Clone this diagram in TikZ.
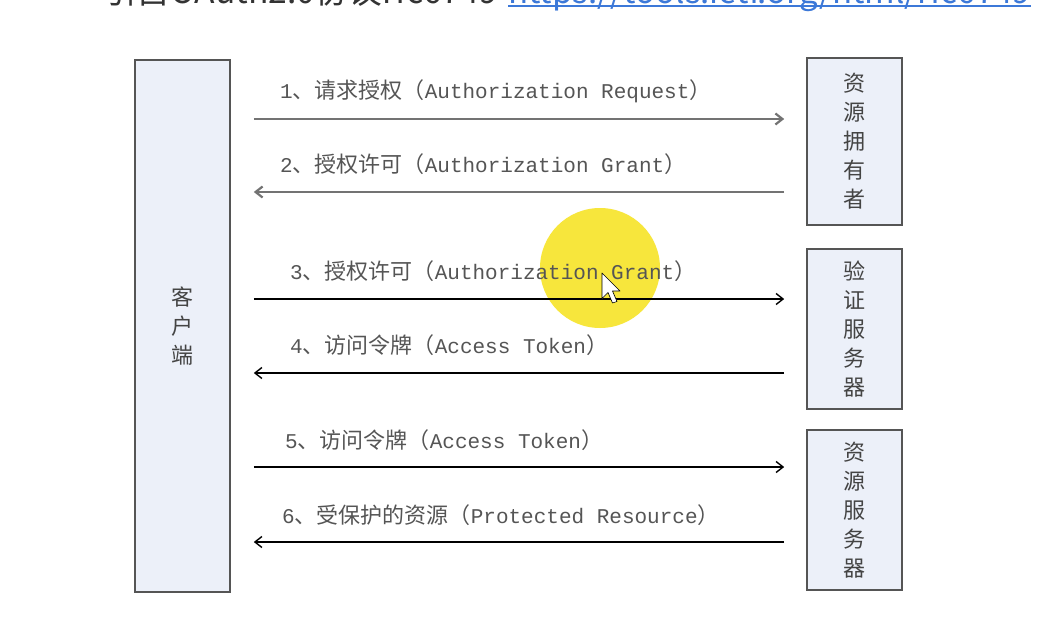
\documentclass[tikz,border=0pt]{standalone}
\usepackage{fontspec}
\newfontfamily\cjk{Noto Sans CJK SC}
\newfontfamily\mono{Liberation Mono}
\usetikzlibrary{arrows.meta}
\definecolor{boxfill}{HTML}{ECF0F9}
\definecolor{boxline}{HTML}{555555}
\definecolor{txtgray}{HTML}{555555}
\definecolor{hl}{HTML}{F7E63C}
\definecolor{linkblue}{HTML}{3C78D8}
\newcommand{\steplabel}[3]{{\mono\fontsize{21}{21}\selectfont #1}、#2（{\mono\fontsize{21}{21}\selectfont #3}）}
\tikzset{
  party/.style={draw=boxline, line width=1.6pt, fill=boxfill, minimum width=95pt,
    inner sep=0pt, align=center, text=txtgray!80!black, font=\cjk\fontsize{22}{29}\selectfont},
  msg/.style={anchor=west, inner sep=0pt, text=txtgray, font=\cjk\fontsize{22}{22}\selectfont},
  arr/.style={-{Straight Barb[length=7pt,width=11pt]}, line width=1.4pt, draw=black},
  arrg/.style={arr, draw=gray!90!black, line width=2.2pt},
  toptext/.style={anchor=base west, inner sep=0pt, font=\cjk\fontsize{33.6}{33.6}\selectfont},
}
\begin{document}
\begin{tikzpicture}[x=1pt,y=-1pt]
\useasboundingbox (0,0) rectangle (1050,640);
\clip (0,0) rectangle (1050,640);
\fill[white] (0,0) rectangle (1050,640);
% cited source line (cut off at the top, as in the reference)
\node[toptext, text=black!80] (cite) at (103,3) {引自OAuth2.0协议rfc6749};
\node[toptext, text=linkblue, font=\cjk\fontsize{33}{33}\selectfont] (link) at (508,3) {https://tools.ietf.org/html/rfc6749};
\draw[linkblue, line width=1.5pt] ([yshift=-3pt]link.base west) -- ([yshift=-3pt]link.base east);
% highlight
\fill[hl] (600,268) circle (60);
% parties
\node[party, minimum height=532pt] (client) at (182.5,326) {客\\户\\端};
\node[party, minimum height=167pt] (owner) at (854.5,141.5) {资\\源\\拥\\有\\者};
\node[party, minimum height=160pt] (auth) at (854.5,329) {验\\证\\服\\务\\器};
\node[party, minimum height=160pt] (rs) at (854.5,510) {资\\源\\服\\务\\器};
% message rows
\coordinate (y1) at (0,119);
\coordinate (y2) at (0,192);
\coordinate (y3) at (0,299);
\coordinate (y4) at (0,373);
\coordinate (y5) at (0,467);
\coordinate (y6) at (0,542);
\draw[arrg, shorten <=23pt, shorten >=22pt] (client.east |- y1) -- (owner.west |- y1);
\draw[arrg, shorten <=22pt, shorten >=23pt] (owner.west |- y2) -- (client.east |- y2);
\draw[arr, shorten <=23pt, shorten >=22pt] (client.east |- y3) -- (auth.west |- y3);
\draw[arr, shorten <=22pt, shorten >=23pt] (auth.west |- y4) -- (client.east |- y4);
\draw[arr, shorten <=23pt, shorten >=22pt] (client.east |- y5) -- (rs.west |- y5);
\draw[arr, shorten <=22pt, shorten >=23pt] (rs.west |- y6) -- (client.east |- y6);
% labels
\node[msg] (m1) at (280,91) {\steplabel{1}{请求授权}{Authorization Request}};
\node[msg] (m2) at (280,164) {\steplabel{2}{授权许可}{Authorization Grant}};
\node[msg] (m3) at (290,271) {\steplabel{3}{授权许可}{Authorization Grant}};
\node[msg] (m4) at (290,345) {\steplabel{4}{访问令牌}{Access Token}};
\node[msg] (m5) at (285,440) {\steplabel{5}{访问令牌}{Access Token}};
\node[msg] (m6) at (282,515) {\steplabel{6}{受保护的资源}{Protected Resource}};
% mouse cursor
\draw[black, fill=white, line width=0.6pt, line join=round, shift={(602,273)}, scale=1.5]
  (0,0) -- (0,17) -- (4,13) -- (7,20) -- (10,19) -- (7,12) -- (12,12) -- cycle;
\end{tikzpicture}
\end{document}
